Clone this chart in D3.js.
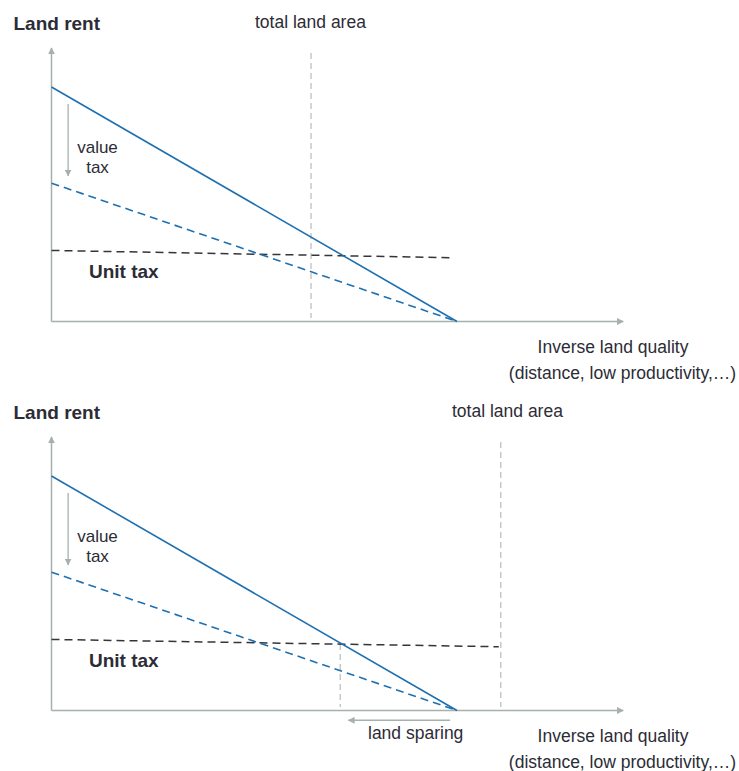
<!DOCTYPE html>
<html>
<head>
<meta charset="utf-8">
<script src="https://cdn.jsdelivr.net/npm/d3@7"></script>
<style>
  html, body { margin: 0; padding: 0; background: #fff; }
  svg { display: block; font-family: "Liberation Sans", Arial, Helvetica, sans-serif; }
</style>
</head>
<body>
<svg id="chart" width="739" height="771"></svg>
<script>
// ---- data (abstract units: x = inverse land quality, y = land rent) ----
const axisMax = [141, 116.6];                 // [x end, y end] of axis arrows
const rentLine = [[0, 100], [100, 0]];        // land rent without tax
const valueTaxLine = [[0, 59], [100, 0]];     // land rent after value tax
const unitTaxTop = [[0, 30.3], [98.3, 27.2]];
const unitTaxBottom = [[0, 30.3], [110.3, 27.2]];
const totalLandArea = [64, 110.8];            // x position in top / bottom panel
const totalLandTop = 114.5;
const valueTaxArrow = { x: 4.1, from: 92.8, to: 62.1 };
const intersectionX = 71.2;
const intersectionY = 28.4;
const landSparing = { y: -4.2, from: 98.3, to: 73.2 };
const panels = ["top", "bottom"];
const panelOffset = [0, 389];
const unitTaxLines = [unitTaxTop, unitTaxBottom];

// ---- styles ----
const axisCol = "#a6b1ac";
const blue = "#1f70b0";
const dark = "#34343c";
const gray = "#b8bcbc";
const textCol = "#2c2c36";

const x = d3.scaleLinear().domain([0, 100]).range([51.5, 457]);
const y = d3.scaleLinear().domain([0, 100]).range([321.5, 87]);
const line = d3.line().x(d => x(d[0])).y(d => y(d[1]));

const svg = d3.select("#chart");
const defs = svg.append("defs");
defs.append("marker")
  .attr("id", "arr")
  .attr("viewBox", "0 0 10 10")
  .attr("refX", 9).attr("refY", 5)
  .attr("markerWidth", 7).attr("markerHeight", 7)
  .attr("markerUnits", "userSpaceOnUse")
  .attr("orient", "auto")
  .append("path").attr("d", "M0,0 L10,5 L0,10 Z").attr("fill", axisCol);

panels.forEach((p, i) => {
  const g = svg.append("g").attr("transform", `translate(0,${panelOffset[i]})`);

  // axes
  g.append("line")
    .attr("x1", x(0)).attr("y1", y(0)).attr("x2", x(0)).attr("y2", y(axisMax[1]))
    .attr("stroke", axisCol).attr("stroke-width", 1.5).attr("marker-end", "url(#arr)");
  g.append("line")
    .attr("x1", x(0)).attr("y1", y(0)).attr("x2", x(axisMax[0])).attr("y2", y(0))
    .attr("stroke", axisCol).attr("stroke-width", 1.5).attr("marker-end", "url(#arr)");

  // total land area vertical
  g.append("line")
    .attr("x1", x(totalLandArea[i])).attr("x2", x(totalLandArea[i]))
    .attr("y1", y(totalLandTop)).attr("y2", y(1.5))
    .attr("stroke", gray).attr("stroke-width", 1.2).attr("stroke-dasharray", "6,4");

  if (i === 1) {
    g.append("line")
      .attr("x1", x(intersectionX)).attr("x2", x(intersectionX))
      .attr("y1", y(intersectionY)).attr("y2", y(1.5))
      .attr("stroke", gray).attr("stroke-width", 1.2).attr("stroke-dasharray", "6,4");
    g.append("line")
      .attr("x1", x(landSparing.from)).attr("x2", x(landSparing.to))
      .attr("y1", y(landSparing.y)).attr("y2", y(landSparing.y))
      .attr("stroke", axisCol).attr("stroke-width", 1.5).attr("marker-end", "url(#arr)");
    g.append("text").attr("x", 368).attr("y", 350).attr("font-size", 17.5)
      .attr("fill", textCol).text("land sparing");
  }

  // unit tax line
  g.append("path").datum(unitTaxLines[i]).attr("d", line)
    .attr("fill", "none").attr("stroke", dark).attr("stroke-width", 1.5)
    .attr("stroke-dasharray", "8,5");

  // value tax dashed line
  g.append("path").datum(valueTaxLine).attr("d", line)
    .attr("fill", "none").attr("stroke", blue).attr("stroke-width", 1.6)
    .attr("stroke-dasharray", "8,5");

  // rent line
  g.append("path").datum(rentLine).attr("d", line)
    .attr("fill", "none").attr("stroke", blue).attr("stroke-width", 1.6);

  // value tax arrow
  g.append("line")
    .attr("x1", x(valueTaxArrow.x)).attr("x2", x(valueTaxArrow.x))
    .attr("y1", y(valueTaxArrow.from)).attr("y2", y(valueTaxArrow.to))
    .attr("stroke", axisCol).attr("stroke-width", 1.3).attr("marker-end", "url(#arr)");

  // texts
  g.append("text").attr("x", 13.5).attr("y", 30).attr("font-size", 19)
    .attr("font-weight", "bold").attr("fill", textCol).text("Land rent");
  g.append("text").attr("x", i === 0 ? 255 : 452).attr("y", 27.5).attr("font-size", 17.5)
    .attr("fill", textCol).text("total land area");
  g.append("text").attr("x", 97.5).attr("y", 153).attr("font-size", 17)
    .attr("text-anchor", "middle").attr("fill", textCol).text("value");
  g.append("text").attr("x", 97.5).attr("y", 173).attr("font-size", 17)
    .attr("text-anchor", "middle").attr("fill", textCol).text("tax");
  g.append("text").attr("x", 89).attr("y", 278).attr("font-size", 19)
    .attr("font-weight", "bold").attr("fill", textCol).text("Unit tax");
  g.append("text").attr("x", 613).attr("y", 353).attr("font-size", 17.5)
    .attr("text-anchor", "middle").attr("fill", textCol).text("Inverse land quality");
  g.append("text").attr("x", 622.5).attr("y", 379).attr("font-size", 17.5)
    .attr("text-anchor", "middle").attr("fill", textCol).text("(distance, low productivity,…)");
});
</script>
</body>
</html>
